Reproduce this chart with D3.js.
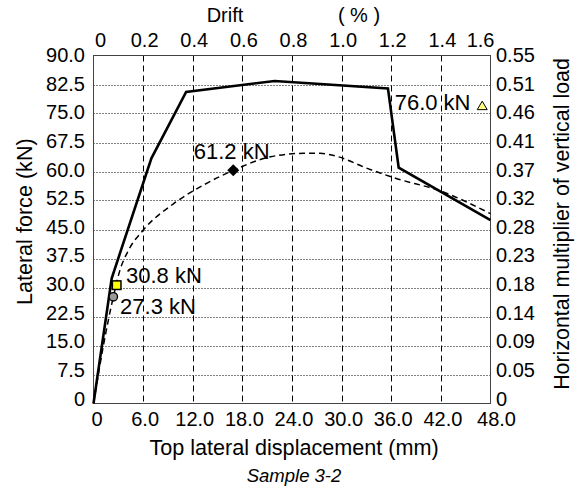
<!DOCTYPE html>
<html>
<head>
<meta charset="utf-8">
<script src="https://cdn.jsdelivr.net/npm/d3@7"></script>
<style>
  html, body { margin: 0; padding: 0; background: #fff; }
  text { font-family: "Liberation Sans", Arial, Helvetica, sans-serif; fill: #000; }
</style>
</head>
<body>
<svg id="chart" width="579" height="493"></svg>
<script>
// ---- data ----
const dispTicks = [0, 6, 12, 18, 24, 30, 36, 42, 48];
const dispLabels = ["0", "6.0", "12.0", "18.0", "24.0", "30.0", "36.0", "42.0", "48.0"];
const forceTicks = [0, 7.5, 15, 22.5, 30, 37.5, 45, 52.5, 60, 67.5, 75, 82.5, 90];
const forceLabels = ["0", "7.5", "15.0", "22.5", "30.0", "37.5", "45.0", "52.5", "60.0", "67.5", "75.0", "82.5", "90.0"];
const multLabels = ["0", "0.05", "0.09", "0.14", "0.18", "0.23", "0.28", "0.32", "0.37", "0.41", "0.46", "0.51", "0.55"];
const driftTicks = [0, 0.2, 0.4, 0.6, 0.8, 1.0, 1.2, 1.4, 1.6];
const driftLabels = ["0", "0.2", "0.4", "0.6", "0.8", "1.0", "1.2", "1.4", "1.6"];

// solid line (calculated)
const solidDisp  = [0, 2.2, 7.0, 11.2, 21.9, 35.6, 36.9, 48];
const solidForce = [0, 32.4, 63.4, 80.6, 83.4, 81.5, 61.0, 47.4];

// dashed curve (test)
const dashDisp  = [0, 1.2, 2.4, 3.2, 4.2, 6.0, 9.7, 13.3, 16.9, 21.4, 25.4, 27.4, 29.6, 33.1, 36.3, 42.3, 48];
const dashForce = [0, 15.0, 27.6, 34.5, 39.5, 44.8, 51.7, 56.5, 60.3, 63.8, 64.7, 64.7, 63.8, 60.8, 58.4, 54.7, 49.1];

// key points
const markDisp  = [2.8, 2.4, 16.9, 47.0];
const markForce = [30.6, 27.6, 60.3, 76.9];
const markLabels = ["30.8 kN", "27.3 kN", "61.2 kN", "76.0 kN"];
const markTypes = ["square", "circle", "diamond", "triangle"];

// ---- layout ----
const svg = d3.select("#chart");
const L = 93.5, R = 490.5, T = 55.5, B = 403.5;
const x = d3.scaleLinear().domain([0, 48]).range([L, R]);
const y = d3.scaleLinear().domain([0, 90]).range([B, T]);
const xd = d3.scaleLinear().domain([0, 1.6]).range([L, R]);
const yLab = d3.scaleLinear().domain([0, 90]).range([398.5, 55]);

// grid
svg.append("g").selectAll("line").data(dispTicks.slice(1, -1)).join("line")
  .attr("x1", d => Math.round(x(d)) + 0.5).attr("x2", d => Math.round(x(d)) + 0.5)
  .attr("y1", T).attr("y2", B)
  .attr("stroke", "#000").attr("stroke-width", 1).attr("stroke-dasharray", "6,4");
svg.append("g").selectAll("line").data(forceTicks.slice(1, -1)).join("line")
  .attr("x1", L).attr("x2", R)
  .attr("y1", d => Math.round(y(d)) + 0.5).attr("y2", d => Math.round(y(d)) + 0.5)
  .attr("stroke", "#000").attr("stroke-width", 1).attr("stroke-dasharray", "1,2");

// frame
svg.append("rect").attr("x", L).attr("y", T).attr("width", R - L).attr("height", B - T)
  .attr("fill", "none").attr("stroke", "#444").attr("stroke-width", 1);

// left tick labels
svg.append("g").selectAll("text").data(forceTicks).join("text")
  .attr("x", L - 8.5).attr("y", d => yLab(d)).attr("dy", "0.35em")
  .attr("text-anchor", "end").attr("font-size", 20)
  .text((d, i) => forceLabels[i]);
// right tick labels
svg.append("g").selectAll("text").data(forceTicks).join("text")
  .attr("x", R + 5.5).attr("y", d => yLab(d)).attr("dy", "0.35em")
  .attr("text-anchor", "start").attr("font-size", 20)
  .text((d, i) => multLabels[i]);
// bottom tick labels
svg.append("g").selectAll("text").data(dispTicks).join("text")
  .attr("x", (d, i) => x(d) + (i === 0 ? 3.5 : i === dispTicks.length - 1 ? 6 : 2))
  .attr("y", 426).attr("text-anchor", "middle").attr("font-size", 20)
  .text((d, i) => dispLabels[i]);
// top tick labels
svg.append("g").selectAll("text").data(driftTicks).join("text")
  .attr("x", (d, i) => i === 0 ? xd(d) + 1.5 : i === driftTicks.length - 1 ? xd(d) + 4 : xd(d) + 1.5)
  .attr("y", 46.5)
  .attr("text-anchor", (d, i) => i === 0 ? "start" : i === driftTicks.length - 1 ? "end" : "middle")
  .attr("font-size", 20)
  .text((d, i) => driftLabels[i]);

// titles
svg.append("text").attr("x", 225).attr("y", 21.5).attr("text-anchor", "middle").attr("font-size", 20).text("Drift");
svg.append("text").attr("x", 359).attr("y", 21.5).attr("text-anchor", "middle").attr("font-size", 20).text("( % )");
svg.append("text").attr("x", 294).attr("y", 455).attr("text-anchor", "middle").attr("font-size", 21.6)
  .text("Top lateral displacement (mm)");
svg.append("text").attr("x", 294).attr("y", 481.5).attr("text-anchor", "middle").attr("font-size", 18.5)
  .attr("font-style", "italic").text("Sample 3-2");
svg.append("text").attr("transform", "translate(31.5,221.7) rotate(-90)").attr("text-anchor", "middle")
  .attr("font-size", 21.6).text("Lateral force (kN)");
svg.append("text").attr("transform", "translate(569,224) rotate(-90)").attr("text-anchor", "middle")
  .attr("font-size", 21.4).text("Horizontal multiplier of vertical load");

// lines
const solidPts = solidDisp.map((d, i) => [d, solidForce[i]]);
const dashPts = dashDisp.map((d, i) => [d, dashForce[i]]);
svg.append("path").datum(dashPts)
  .attr("d", d3.line().x(d => x(d[0])).y(d => y(d[1])).curve(d3.curveMonotoneX))
  .attr("fill", "none").attr("stroke", "#000").attr("stroke-width", 1.5).attr("stroke-dasharray", "6,4");
svg.append("path").datum(solidPts)
  .attr("d", d3.line().x(d => x(d[0])).y(d => y(d[1])))
  .attr("fill", "none").attr("stroke", "#000").attr("stroke-width", 2.6).attr("stroke-linejoin", "miter");

// markers
const mg = svg.append("g");
markDisp.forEach((d, i) => {
  const cx = x(d), cy = y(markForce[i]);
  const t = markTypes[i];
  if (t === "square") {
    mg.append("rect").attr("x", cx - 4.3).attr("y", cy - 4.3).attr("width", 8.6).attr("height", 8.6)
      .attr("fill", "#ffff00").attr("stroke", "#000").attr("stroke-width", 1.5);
  } else if (t === "circle") {
    mg.append("circle").attr("cx", cx).attr("cy", cy).attr("r", 4.2)
      .attr("fill", "#999").attr("stroke", "#000").attr("stroke-width", 1.3);
  } else if (t === "diamond") {
    mg.append("path").attr("d", `M${cx},${cy - 6}L${cx + 6},${cy}L${cx},${cy + 6}L${cx - 6},${cy}Z`)
      .attr("fill", "#000");
  } else {
    mg.append("path").attr("d", `M${cx},${cy - 5}L${cx + 5},${cy + 3.5}L${cx - 5},${cy + 3.5}Z`)
      .attr("fill", "#ffff80").attr("stroke", "#000").attr("stroke-width", 1);
  }
});
// marker labels
const labOff = [[9.3, -2, "start"], [6.7, 17.6, "start"], [-1.6, -11.7, "middle"], [-11.7, 4, "end"]];
markDisp.forEach((d, i) => {
  svg.append("text").attr("x", x(d) + labOff[i][0]).attr("y", y(markForce[i]) + labOff[i][1])
    .attr("text-anchor", labOff[i][2]).attr("font-size", 22).text(markLabels[i]);
});
</script>
</body>
</html>
